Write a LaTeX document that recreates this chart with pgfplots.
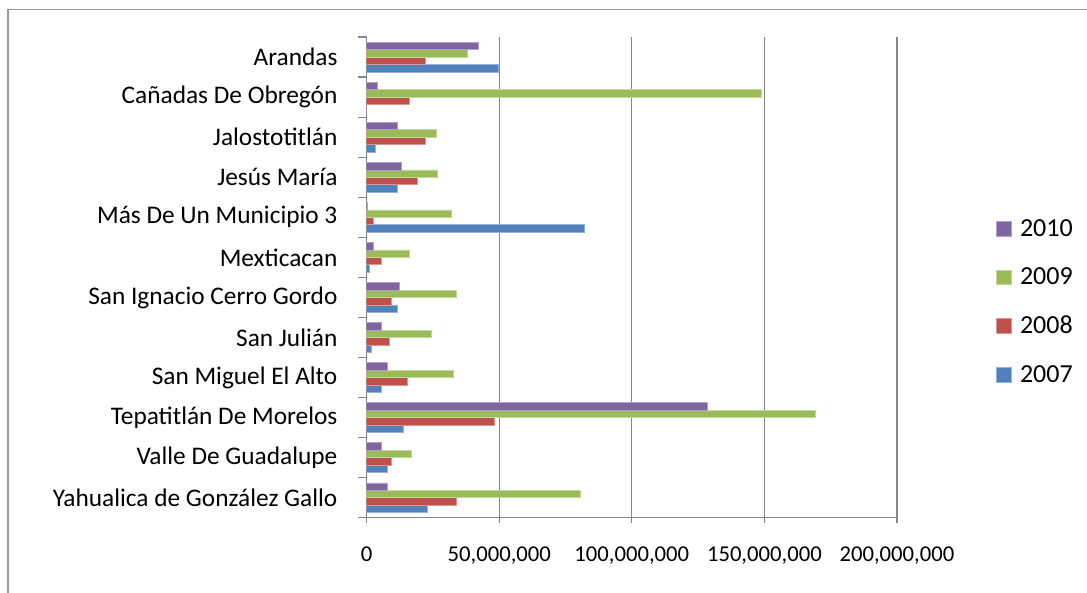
\documentclass[border=0pt]{standalone}
\usepackage{pgfplots}
\pgfplotsset{compat=1.18}
\usepackage{pgfplotstable}
\usepackage{fontspec}
\setmainfont{Carlito}

\definecolor{c2007}{HTML}{4F81BD}
\definecolor{c2008}{HTML}{C0504D}
\definecolor{c2009}{HTML}{9BBB59}
\definecolor{c2010}{HTML}{8064A2}
\definecolor{gridgray}{HTML}{868686}

% y: Arandas = 11 (top) ... Yahualica = 0 (bottom)
\pgfplotstableread{
y v2007 v2008 v2009 v2010
11 49500000 22300000 38100000 42000000
10 0 16200000 149000000 4000000
9 3300000 22300000 26100000 11700000
8 11700000 19200000 26800000 13100000
7 82200000 2500000 32100000 200000
6 1000000 5500000 16200000 2500000
5 11700000 9300000 33700000 12400000
4 1800000 8700000 24500000 5500000
3 5500000 15500000 32800000 7800000
2 14000000 48000000 169300000 128500000
1 7800000 9300000 17000000 5500000
0 23000000 33700000 80600000 7800000
}\data

\begin{document}
\begin{tikzpicture}
\useasboundingbox (0,0) rectangle (815.25pt,444pt);
\draw[gridgray!85, line width=1.1pt] (6pt,-20pt) -- (6pt,436.9pt) -- (840pt,436.9pt);
\begin{axis}[
  at={(275pt,55.7pt)}, anchor=south west,
  scale only axis, width=397.7pt, height=360.5pt,
  xbar=0pt, bar width=0.185,
  xmin=0, xmax=200000000,
  ymin=-0.5, ymax=11.5,
  axis lines*=left,
  axis line style={gridgray, line width=1pt},
  xtick={0,50000000,100000000,150000000,200000000},
  scaled x ticks=false,
  /pgf/number format/fixed,
  /pgf/number format/1000 sep={,},
  /pgf/number format/assume math mode=true,
  xmajorgrids,
  major grid style={gridgray, line width=1pt},
  tick align=outside,
  major tick length=3.75pt,
  minor tick length=6.75pt,
  major x tick style={gridgray, line width=1pt},
  major y tick style={draw=none},
  minor y tick style={gridgray, line width=1pt},
  ytick={0,...,11},
  minor ytick={-0.5,0.5,...,11.5},
  yticklabels={Yahualica de González Gallo, Valle De Guadalupe, Tepatitlán De Morelos,
    San Miguel El Alto, San Julián, San Ignacio Cerro Gordo, Mexticacan,
    Más De Un Municipio 3, Jesús María, Jalostotitlán, Cañadas De Obregón, Arandas},
  yticklabel style={font=\fontsize{19}{22}\selectfont, inner sep=0pt, xshift=-18pt},
  xticklabel style={font=\fontsize{17}{20}\selectfont, inner sep=0pt, yshift=-18pt},
  legend style={at={(1.187,0.449)}, anchor=west, draw=none, fill=none,
    inner sep=0pt, font=\fontsize{19.5}{23}\selectfont, row sep=18pt, column sep=4pt},
  legend cell align=left,
  reverse legend,
  legend image code/.code={\fill[#1] (0pt,-5.6pt) rectangle (11.25pt,5.6pt);},
]
\addplot[fill=c2007, draw=c2007!60!white, line width=0.5pt] table[x=v2007, y=y]{\data};
\addplot[fill=c2008, draw=c2008!60!white, line width=0.5pt] table[x=v2008, y=y]{\data};
\addplot[fill=c2009, draw=c2009!60!white, line width=0.5pt] table[x=v2009, y=y]{\data};
\addplot[fill=c2010, draw=c2010!60!white, line width=0.5pt] table[x=v2010, y=y]{\data};
\legend{2007, 2008, 2009, 2010}
\end{axis}
\end{tikzpicture}
\end{document}
